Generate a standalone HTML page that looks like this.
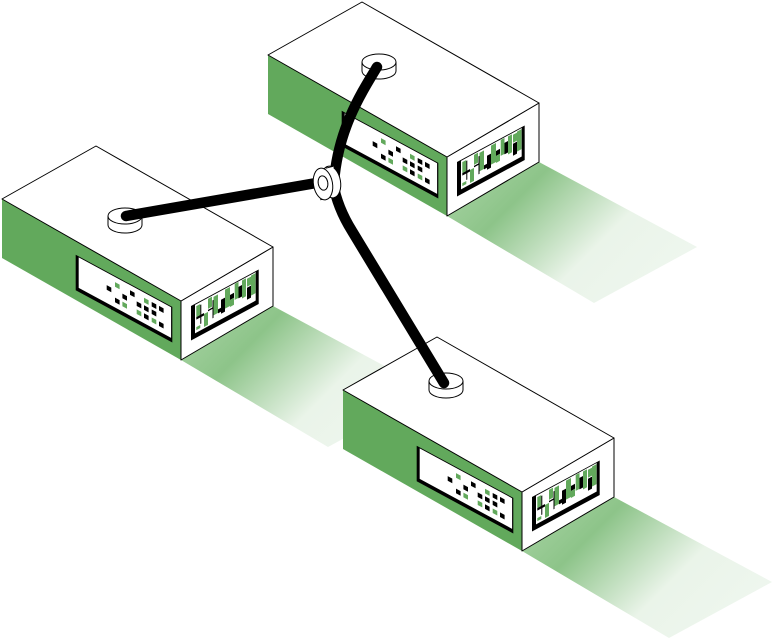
<!DOCTYPE html>
<html>
<head>
<meta charset="utf-8">
<style>
  html, body { margin: 0; padding: 0; background: #ffffff; }
  svg { display: block; }
</style>
</head>
<body>
<svg width="774" height="638" viewBox="0 0 774 638" xmlns="http://www.w3.org/2000/svg">
  <defs>
    <linearGradient id="sg" gradientUnits="userSpaceOnUse" x1="149.5" y1="149.5" x2="290" y2="290">
      <stop offset="0" stop-color="#9ccd98"/>
      <stop offset="0.19" stop-color="#8dc489"/>
      <stop offset="0.64" stop-color="#eaf4e9"/>
      <stop offset="1" stop-color="#eef6ee"/>
    </linearGradient>

    <g id="shadow">
      <polygon points="85,214 177,160 335,245 232,301" fill="url(#sg)"/>
    </g>

    <!-- left panel squares pattern (panel-local coords) -->
    <g id="squares">
      <rect x="39.3" y="6.2" width="4.6" height="4.6" fill="#62a95c"/>
      <rect x="54.3" y="6.2" width="4.6" height="4.6" fill="#000"/>
      <rect x="68.3" y="6.2" width="4.6" height="4.6" fill="#62a95c"/>
      <rect x="76.0" y="6.2" width="4.6" height="4.6" fill="#000"/>
      <rect x="83.3" y="6.2" width="4.6" height="4.6" fill="#000"/>
      <rect x="31.0" y="13.7" width="4.6" height="4.6" fill="#000"/>
      <rect x="46.7" y="13.7" width="4.6" height="4.6" fill="#000"/>
      <rect x="61.0" y="13.7" width="4.6" height="4.6" fill="#000"/>
      <rect x="68.3" y="13.7" width="4.6" height="4.6" fill="#000"/>
      <rect x="76.0" y="13.7" width="4.6" height="4.6" fill="#000"/>
      <rect x="39.3" y="21.7" width="4.6" height="4.6" fill="#000"/>
      <rect x="46.7" y="21.7" width="4.6" height="4.6" fill="#62a95c"/>
      <rect x="61.0" y="21.7" width="4.6" height="4.6" fill="#62a95c"/>
      <rect x="68.3" y="21.7" width="4.6" height="4.6" fill="#000"/>
      <rect x="76.0" y="21.7" width="4.6" height="4.6" fill="#62a95c"/>
      <rect x="83.3" y="21.7" width="4.6" height="4.6" fill="#000"/>
    </g>

    <!-- right panel bars pattern (panel-local coords) -->
    <g id="bars">
      <rect x="5.3" y="3" width="4" height="11" fill="#62a95c"/>
      <rect x="5.3" y="14" width="7.7" height="2.5" fill="#000"/>
      <rect x="9.3" y="4" width="1" height="19" fill="#000"/>
      <rect x="5.3" y="24" width="4" height="3" fill="#62a95c"/>
      <rect x="13" y="15" width="4" height="13" fill="#62a95c"/>
      <rect x="17" y="2" width="4" height="10" fill="#62a95c"/>
      <rect x="17" y="13" width="4.5" height="1.5" fill="#000"/>
      <rect x="21.5" y="6" width="1" height="18" fill="#000"/>
      <rect x="22.5" y="3" width="4.5" height="18.5" fill="#62a95c"/>
      <rect x="27" y="18" width="3" height="4" fill="#000"/>
      <rect x="30" y="10" width="4" height="14" fill="#000"/>
      <rect x="34" y="2" width="5" height="19" fill="#62a95c"/>
      <rect x="39" y="10" width="4" height="5" fill="#000"/>
      <rect x="39" y="15" width="4" height="7" fill="#62a95c"/>
      <rect x="43.7" y="1.5" width="3.8" height="16" fill="#62a95c"/>
      <rect x="47.5" y="6.5" width="3.5" height="11.5" fill="#000"/>
      <rect x="51" y="2" width="4" height="18" fill="#62a95c"/>
      <rect x="56" y="3" width="4" height="8" fill="#62a95c"/>
      <rect x="56" y="12" width="4" height="12" fill="#000"/>
      <rect x="60" y="2" width="4.5" height="20" fill="#62a95c"/>
    </g>

    <g id="box" stroke-linejoin="round">
      <polygon points="-94,53 85,155 85,214 -94,112" fill="#62a95c"/>
      <polygon points="85,155 177,101 177,160 85,214" fill="#ffffff" stroke="#000" stroke-width="1"/>
      <polygon points="0,0 -94,53 85,155 177,101" fill="#ffffff" stroke="#000" stroke-width="1"/>

      <g transform="matrix(1,0.54,0,1,-20.3,108.7)">
        <rect x="0" y="0" width="96.6" height="35.6" fill="#000"/>
        <rect x="3" y="1" width="92.4" height="30.6" fill="#fff"/>
        <use href="#squares"/>
      </g>

      <g transform="matrix(1,-0.54,0,1,95,160)">
        <rect x="0" y="0" width="67.7" height="34.5" fill="#000"/>
        <rect x="4" y="1" width="60.7" height="28.5" fill="#fff"/>
        <use href="#bars"/>
      </g>
    </g>

    <g id="conn">
      <ellipse cx="0" cy="9" rx="17" ry="8" fill="#fff" stroke="#000" stroke-width="1"/>
      <rect x="-17" y="0" width="34" height="9" fill="#fff"/>
      <line x1="-17" y1="0" x2="-17" y2="9" stroke="#000" stroke-width="1"/>
      <line x1="17" y1="0" x2="17" y2="9" stroke="#000" stroke-width="1"/>
      <ellipse cx="0" cy="0" rx="17" ry="8" fill="#fff" stroke="#000" stroke-width="1"/>
    </g>
  </defs>

  <use href="#shadow" transform="translate(96,146)"/>
  <use href="#shadow" transform="translate(362,2)"/>
  <use href="#shadow" transform="translate(437,337)"/>

  <use href="#box" transform="translate(362,2)"/>
  <use href="#box" transform="translate(96,146)"/>
  <use href="#box" transform="translate(437,337)"/>

  <use href="#conn" transform="translate(125,216)"/>
  <use href="#conn" transform="translate(379,62)"/>
  <use href="#conn" transform="translate(446,381)"/>

  <g fill="none" stroke="#000" stroke-width="10.5" stroke-linecap="round" stroke-linejoin="round">
    <path d="M126,216 L322,182"/>
    <path d="M377,67 C360,95 338,130 334,182"/>
    <path d="M333,183 C336,200 342,215 352,231 L444,383"/>
  </g>

  <g stroke="#000" stroke-width="1" fill="#fff">
    <ellipse cx="331" cy="182" rx="9.5" ry="16" transform="rotate(-10 331 182)"/>
    <polygon points="325.8,168.2 333.8,166.2 328.2,197.8 320.2,199.8" stroke="none"/>
    <line x1="325.8" y1="168.2" x2="333.8" y2="166.2"/>
    <line x1="320.2" y1="199.8" x2="328.2" y2="197.8"/>
    <ellipse cx="323" cy="184" rx="9.5" ry="16" transform="rotate(-10 323 184)"/>
    <ellipse cx="323" cy="183" rx="4.8" ry="7.2" transform="rotate(-10 323 183)"/>
  </g>
</svg>
</body>
</html>
